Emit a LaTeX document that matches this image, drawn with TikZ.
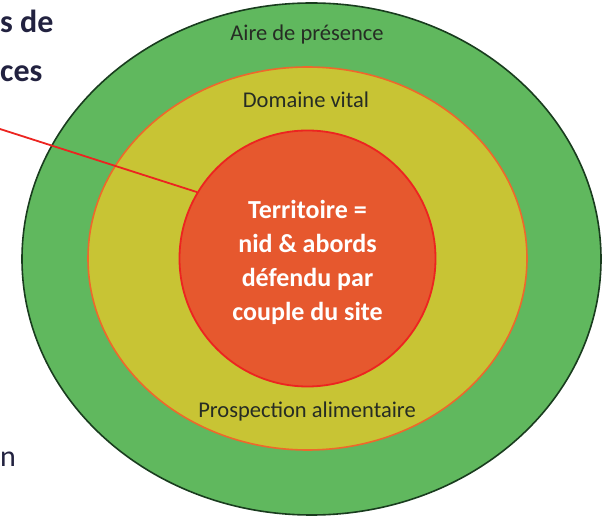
\documentclass[tikz,border=0pt]{standalone}
\usepackage{fontspec}
\setmainfont{Carlito}
\usepackage{tikz}
\usetikzlibrary{shapes.geometric,positioning}

\definecolor{airegreen}{RGB}{96,184,94}
\definecolor{aireborder}{RGB}{25,60,30}
\definecolor{vitalyellow}{RGB}{200,196,52}
\definecolor{vitalborder}{RGB}{238,104,44}
\definecolor{terrfill}{RGB}{230,88,46}
\definecolor{terrborder}{RGB}{236,36,32}
\definecolor{labelgray}{RGB}{38,44,36}
\definecolor{titlenavy}{RGB}{34,34,64}

\begin{document}
\begin{tikzpicture}[x=1pt,y=-1pt,
    zone/.style={ellipse,inner sep=0pt,line width=1.6pt},
    zonelabel/.style={text=labelgray,font=\fontsize{22.5}{24}\selectfont},
    cut/.style={text=titlenavy,anchor=base west,inner sep=0pt,font=\bfseries\fontsize{32}{34}\selectfont}]
    \useasboundingbox (0,0) rectangle (608,518);
    %% zones
    \node (aire) [zone,draw=aireborder,fill=airegreen,minimum width=579pt,minimum height=512pt] at (311.5,259) {};
    \node (vital) [zone,draw=vitalborder,fill=vitalyellow,minimum width=439pt,minimum height=383pt] at (307.5,258.5) {};
    \node (terr) [circle,inner sep=0pt,line width=1.8pt,draw=terrborder,fill=terrfill,minimum size=256pt,
        text=white,align=center,font=\bfseries\fontsize{26}{34}\selectfont] at (307.5,258.5) {};
    \node (terrtext) [text=white,align=center,font=\bfseries\fontsize{26}{34}\selectfont] at ([yshift=-4pt]terr.center)
      {
        Territoire =\\
        nid \& abords\\
        défendu par\\
        couple du site
      };
    %% labels
    \node (airelabel) [zonelabel] at (307,35) {Aire de présence};
    \node (vitallabel) [zonelabel] at (306,100) {Domaine vital};
    \node (prosplabel) [zonelabel] at (307,412) {Prospection alimentaire};
    % texte coupé à gauche
    \node (cut1) [cut] at (0,33) {s de};
    \node (cut2) [cut] at (0,82) {ces};
    \node (cut3) [cut,font=\fontsize{30}{32}\selectfont] at (0,467) {n};
    %% path
    \coordinate (lineend) at (0,129);
    \draw [terrborder,line width=1.8pt] (lineend) -- (terr.149);
\end{tikzpicture}
\end{document}
